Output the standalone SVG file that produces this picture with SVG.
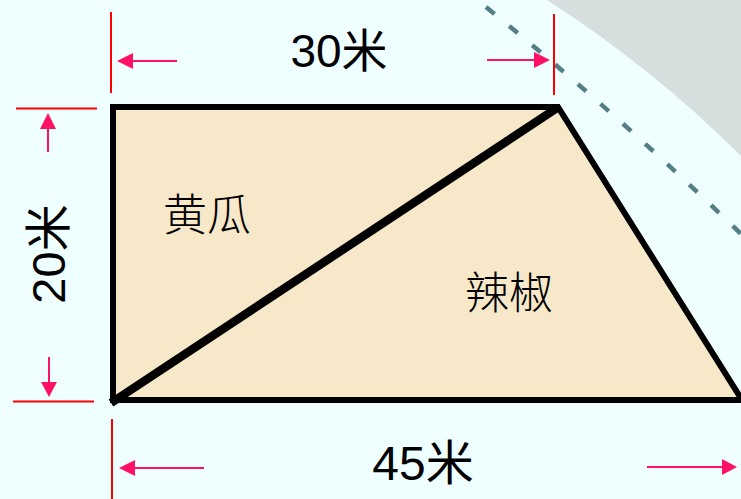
<svg xmlns="http://www.w3.org/2000/svg" width="741" height="499" viewBox="0 0 741 499">
  <style>
    .dim { stroke: #FF0000; stroke-width: 2; fill: none; }
    .arr { stroke: #FF1166; stroke-width: 2; fill: none; }
    .head { fill: #FF1166; stroke: none; }
    .lbl { font-family: "Liberation Sans", "Noto Sans CJK SC", sans-serif; fill: #000; text-anchor: middle; }
    .cn { font-family: "Noto Sans CJK SC", sans-serif; fill: #000; text-anchor: middle; font-weight: 300; }
  </style>
  <rect width="741" height="499" fill="#EFFFFF"/>
  <g id="background">
    <path d="M547,0 A1170,1170 0 0 1 741,156 L741,0 Z" fill="#D6DEDE"/>
    <path d="M486,7 Q617.8,114 741,234" fill="none" stroke="#557F86" stroke-width="4.5" stroke-dasharray="11 19"/>
  </g>
  <g id="field">
    <path d="M113,107 L558,107 L742,400 L113,400 Z" fill="#F6E8C8" stroke="#000" stroke-width="6" stroke-linejoin="miter"/>
    <line x1="557" y1="108" x2="111" y2="403" stroke="#000" stroke-width="8.5"/>
  </g>
  <g id="label-cucumber">
    <text class="cn" x="207" y="231" font-size="44">黄瓜</text>
  </g>
  <g id="label-pepper">
    <text class="cn" x="509" y="309" font-size="44">辣椒</text>
  </g>
  <g id="connectors">
    <line class="dim" x1="111" y1="12" x2="111" y2="93"/>
    <line class="dim" x1="554" y1="14" x2="554" y2="95"/>
    <line class="dim" x1="16" y1="108.5" x2="97" y2="108.5"/>
    <line class="dim" x1="13" y1="401.5" x2="94" y2="401.5"/>
    <line class="dim" x1="112" y1="419" x2="112" y2="499"/>
    <line class="arr" x1="177" y1="61" x2="130" y2="61"/>
    <polygon class="head" points="117,61 133,53 133,69"/>
    <line class="arr" x1="487" y1="60" x2="537" y2="60"/>
    <polygon class="head" points="550,60 534,52 534,68"/>
    <line class="arr" x1="48" y1="152" x2="48" y2="125"/>
    <polygon class="head" points="48,113 40,129 56,129"/>
    <line class="arr" x1="49" y1="357" x2="49" y2="385"/>
    <polygon class="head" points="49,397 41,382 57,382"/>
    <line class="arr" x1="204" y1="468" x2="132" y2="468"/>
    <polygon class="head" points="119,468 135,460 135,476"/>
    <line class="arr" x1="647" y1="467" x2="725" y2="467"/>
    <polygon class="head" points="737,467 722,459 722,475"/>
  </g>
  <g id="dim-top">
    <text class="lbl" x="339" y="67" font-size="46">30米</text>
  </g>
  <g id="dim-left">
    <text class="lbl" font-size="47" transform="translate(65,254) rotate(-90)">20米</text>
  </g>
  <g id="dim-bottom">
    <text class="lbl" x="423" y="480" font-size="48">45米</text>
  </g>
</svg>
